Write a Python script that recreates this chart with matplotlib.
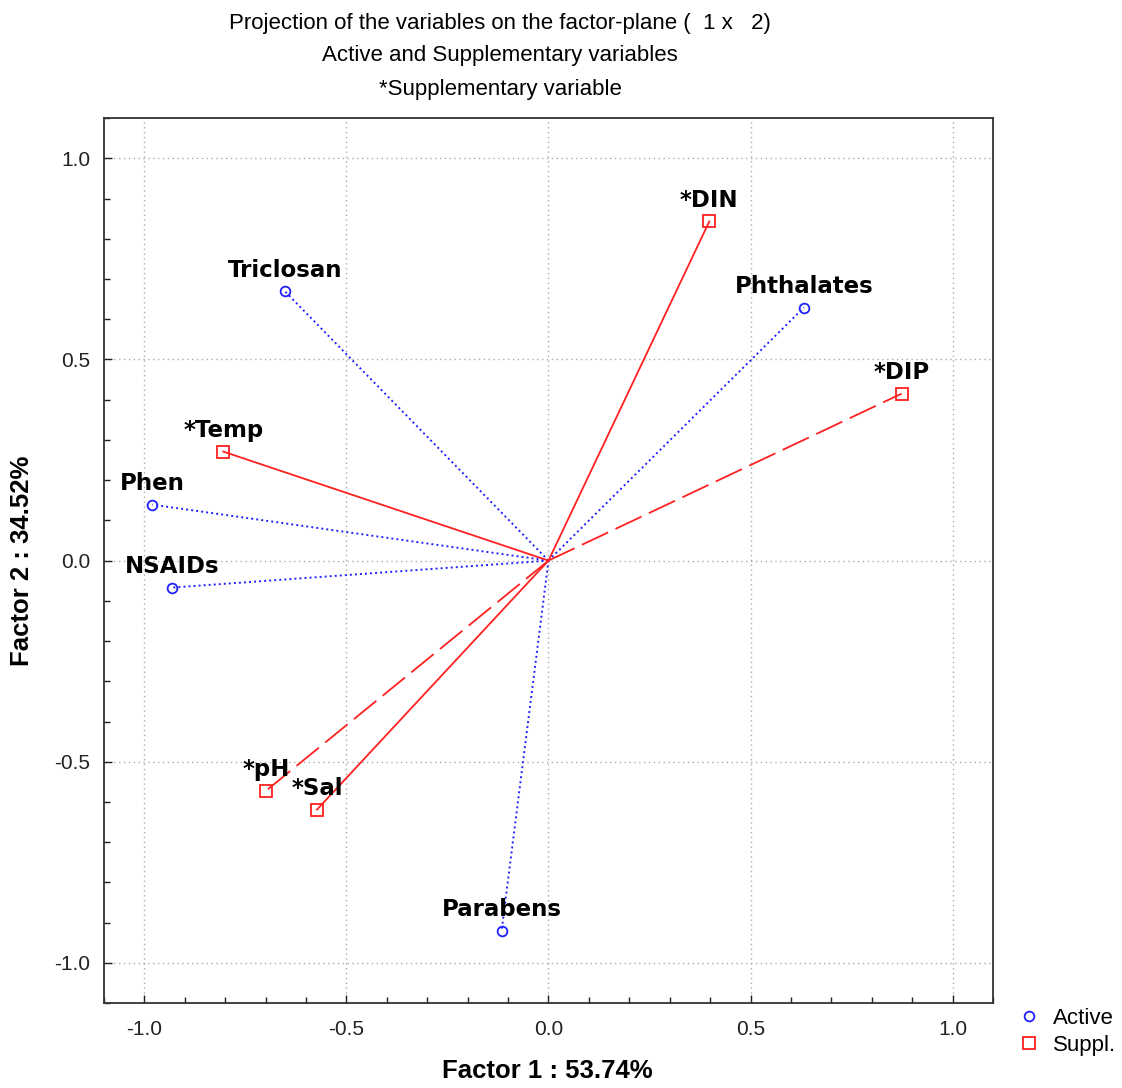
import matplotlib
matplotlib.use("Agg")
import matplotlib.pyplot as plt
from matplotlib.ticker import MultipleLocator
from matplotlib.lines import Line2D

# Active variables
active_names = ["Triclosan", "Phthalates", "Phen", "NSAIDs", "Parabens"]
active_f1 = [-0.652, 0.632, -0.980, -0.931, -0.116]
active_f2 = [0.669, 0.629, 0.139, -0.067, -0.920]

# Supplementary variables
suppl_names = ["*DIN", "*DIP", "*Temp", "*pH", "*Sal"]
suppl_f1 = [0.398, 0.874, -0.805, -0.699, -0.573]
suppl_f2 = [0.843, 0.415, 0.271, -0.572, -0.619]
suppl_style = ["solid", "dashed", "solid", "dashed", "solid"]

title_lines = ["Projection of the variables on the factor-plane (  1 x   2)",
               "Active and Supplementary variables",
               "*Supplementary variable"]
xlabel = "Factor 1 : 53.74%"
ylabel = "Factor 2 : 34.52%"
ticks = [-1.0, -0.5, 0.0, 0.5, 1.0]

plt.rcParams['font.family'] = ['Liberation Sans', 'DejaVu Sans']

fig = plt.figure(figsize=(11.22, 10.88), dpi=100)
ax = fig.add_axes([0.0927, 0.078, 0.7923, 0.8135])

ax.set_xlim(-1.1, 1.1)
ax.set_ylim(-1.1, 1.1)
ax.set_xticks(ticks)
ax.set_yticks(ticks)
ax.set_xticklabels([f"{t:.1f}" for t in ticks])
ax.set_yticklabels([f"{t:.1f}" for t in ticks])
ax.xaxis.set_minor_locator(MultipleLocator(0.1))
ax.yaxis.set_minor_locator(MultipleLocator(0.1))
ax.tick_params(which='both', direction='in', top=False, right=False, labelsize=15, colors='#222222')
ax.tick_params(which='major', length=6, width=1)
ax.tick_params(which='minor', length=4, width=1)
ax.tick_params(axis='x', pad=12)
ax.tick_params(axis='y', pad=10)
ax.grid(True, which='major', linestyle=(0, (1, 2.5)), color='#aaaaaa', linewidth=1)
for s in ax.spines.values():
    s.set_linewidth(1.3)
    s.set_color('#333333')

# active vectors
for name, x, y in zip(active_names, active_f1, active_f2):
    ax.plot([0, x], [0, y], color='#2020ff', linestyle=(0, (1, 1.6)), linewidth=1.4, zorder=3)
    ax.plot([x], [y], marker='o', markersize=7, markerfacecolor='none',
            markeredgecolor='#2020ff', markeredgewidth=1.3, zorder=4)
    ax.annotate(name, (x, y), xytext=(0, 7), textcoords='offset points',
                ha='center', va='bottom', fontsize=16.5, fontweight='bold',
                family='DejaVu Sans', color='black', zorder=5)

# supplementary vectors
for name, x, y, st in zip(suppl_names, suppl_f1, suppl_f2, suppl_style):
    ls = '-' if st == 'solid' else (0, (16, 4.5))
    ax.plot([0, x], [0, y], color='#ff2020', linestyle=ls, linewidth=1.3, zorder=3)
    ax.plot([x], [y], marker='s', markersize=8, markerfacecolor='none',
            markeredgecolor='#ff2020', markeredgewidth=1.3, zorder=4)
    ax.annotate(name, (x, y), xytext=(0, 7), textcoords='offset points',
                ha='center', va='bottom', fontsize=16.5, fontweight='bold',
                family='DejaVu Sans', color='black', zorder=5)

# titles
for i, line in enumerate(title_lines):
    fig.text(0.4456, 1 - (23 + 33 * i) / 1088, line, ha='center', va='center', fontsize=16)

fig.text(547 / 1122, 1 - 1071 / 1088, xlabel, ha='center', va='center',
         fontsize=18.5, fontweight='bold')
fig.text(22 / 1122, 1 - 561 / 1088, ylabel, ha='center', va='center', rotation=90,
         fontsize=18.5, fontweight='bold')

handles = [Line2D([], [], linestyle='none', marker='o', markersize=7, markerfacecolor='none',
                  markeredgecolor='#2020ff', markeredgewidth=1.3),
           Line2D([], [], linestyle='none', marker='s', markersize=8, markerfacecolor='none',
                  markeredgecolor='#ff2020', markeredgewidth=1.3)]
fig.legend(handles, ["Active", "Suppl."], loc='upper left',
           bbox_to_anchor=(1000 / 1122, 1 - 992 / 1088), frameon=False,
           fontsize=16, handletextpad=0.5, labelspacing=0.3, borderpad=0.2, handlelength=1.2)

fig.savefig("out.png", dpi=100)
